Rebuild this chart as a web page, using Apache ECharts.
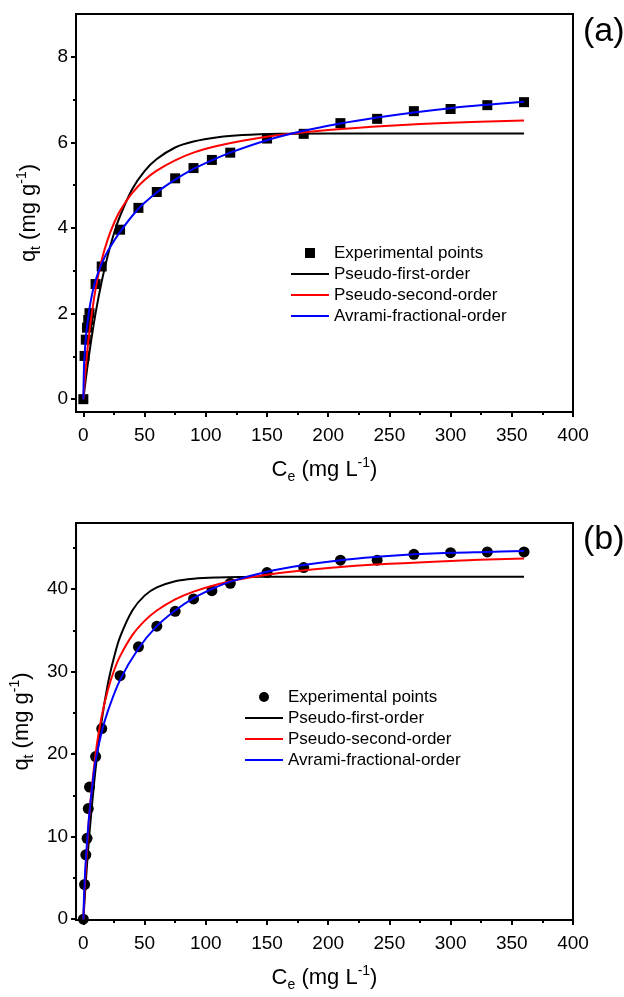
<!DOCTYPE html>
<html>
<head>
<meta charset="utf-8">
<script src="https://cdn.jsdelivr.net/npm/echarts@6/dist/echarts.min.js"></script>
<style>
  html, body { margin: 0; padding: 0; background: #fff; }
  #chart { width: 624px; height: 997px; }
</style>
</head>
<body>
<div id="chart"></div>
<script>
// 实验点的时间
const tExp = [0, 1, 2, 3, 4, 5, 10, 15, 30, 45, 60, 75, 90, 105, 120, 150, 180, 210, 240, 270, 300, 330, 360];
// (a) 实验点
const qExpA = [0, 1.01, 1.39, 1.67, 1.85, 2.01, 2.69, 3.10, 3.96, 4.47, 4.84, 5.16, 5.40, 5.59, 5.76, 6.09, 6.20, 6.45, 6.55, 6.73, 6.78, 6.87, 6.94];
// (b) 实验点
const qExpB = [0, 4.2, 7.8, 9.8, 13.4, 16.0, 19.7, 23.1, 29.5, 33.0, 35.5, 37.3, 38.8, 39.8, 40.7, 42.0, 42.6, 43.5, 43.5, 44.2, 44.4, 44.5, 44.5];

// 拟合曲线读取点
const tFit = [0, 2, 5, 10, 15, 20, 25, 30, 40, 50, 60, 75, 90, 110, 130, 160, 200, 250, 300, 360];
const pfoA = [0, 0.47, 1.10, 2.01, 2.75, 3.36, 3.87, 4.28, 4.91, 5.33, 5.61, 5.88, 6.02, 6.12, 6.17, 6.20, 6.21, 6.21, 6.21, 6.21];
const psoA = [0, 0.74, 1.59, 2.57, 3.25, 3.74, 4.11, 4.40, 4.82, 5.12, 5.34, 5.58, 5.76, 5.92, 6.04, 6.17, 6.29, 6.39, 6.46, 6.51];
const pfoB = [0, 4.54, 10.45, 18.25, 24.1, 28.5, 31.7, 34.2, 37.4, 39.2, 40.2, 40.95, 41.26, 41.41, 41.46, 41.48, 41.48, 41.48, 41.48, 41.48];
const psoB = [0, 6.21, 12.87, 20.04, 24.61, 27.77, 30.10, 31.87, 34.41, 36.14, 37.40, 38.74, 39.69, 40.59, 41.24, 41.94, 42.56, 43.06, 43.41, 43.70];

const tAvr = [0, 0.5, 1, 2, 3, 5, 7.5, 10, 15, 20, 30, 45, 60, 75, 90, 105, 120, 150, 180, 210, 240, 270, 300, 330, 360];
const avrA = [0, 0.75, 1.02, 1.42, 1.70, 2.12, 2.50, 2.78, 3.17, 3.46, 3.91, 4.45, 4.83, 5.13, 5.38, 5.58, 5.76, 6.05, 6.27, 6.44, 6.58, 6.70, 6.80, 6.88, 6.95];
const avrB = [0, 2.6, 4.5, 7.2, 9.4, 13.0, 16.4, 19.2, 22.7, 25.2, 29.0, 32.8, 35.5, 37.4, 38.9, 40.0, 40.9, 42.1, 42.9, 43.5, 43.9, 44.2, 44.4, 44.5, 44.6];

// 刻度
const xMajor = [0, 50, 100, 150, 200, 250, 300, 350, 400];
const xMinor = [25, 75, 125, 175, 225, 275, 325, 375];
const yMajorA = [0, 2, 4, 6, 8];
const yMinorA = [1, 3, 5, 7];
const yMajorB = [0, 10, 20, 30, 40];
const yMinorB = [5, 15, 25, 35, 45];

const names = ['Experimental points', 'Pseudo-first-order', 'Pseudo-second-order', 'Avrami-fractional-order'];

const FONT = "'Liberation Sans', Arial, sans-serif";
const LINE_ICON = 'path://M0,0H38V2H0Z';
const chart = echarts.init(document.getElementById('chart'));

function pairs(xs, ys) {
    return xs.map((x, i) => [x, ys[i]]);
}

const titleRich = {
    a: { fontSize: 22, lineHeight: 28, fontFamily: FONT, color: '#000' },
    s: { fontSize: 14, lineHeight: 14, verticalAlign: 'bottom', fontFamily: FONT, color: '#000' },
    p: { fontSize: 14, lineHeight: 14, verticalAlign: 'top', fontFamily: FONT, color: '#000' }
};

function majorX(grid) {
    return {
        type: 'value', gridIndex: grid, min: -6, max: 400,
        name: '{a|C}{s|e}{a| (mg L}{p|-1}{a|)}',
        nameLocation: 'middle', nameGap: 44,
        nameTextStyle: { rich: titleRich },
        axisLine: { show: true, onZero: false, lineStyle: { color: '#000', width: 2 } },
        axisTick: { show: true, inside: false, length: 5, customValues: xMajor, lineStyle: { color: '#000', width: 2 } },
        axisLabel: { customValues: xMajor, margin: 14, fontSize: 19, color: '#000', fontFamily: FONT },
        splitLine: { show: false }
    };
}
function minorX(grid) {
    return {
        type: 'value', gridIndex: grid, min: -6, max: 400, position: 'bottom',
        axisLine: { show: false, onZero: false },
        axisTick: { show: true, length: 3, customValues: xMinor, lineStyle: { color: '#000', width: 2 } },
        axisLabel: { show: false },
        splitLine: { show: false }
    };
}
function majorY(grid, min, max, vals) {
    return {
        type: 'value', gridIndex: grid, min: min, max: max,
        name: '{a|q}{s|t}{a| (mg g}{p|-1}{a|)}',
        nameLocation: 'middle', nameGap: 33,
        nameTextStyle: { rich: titleRich },
        axisLine: { show: true, onZero: false, lineStyle: { color: '#000', width: 2 } },
        axisTick: { show: true, length: 5, customValues: vals, lineStyle: { color: '#000', width: 2 } },
        axisLabel: { customValues: vals, margin: 8, fontSize: 19, color: '#000', fontFamily: FONT },
        splitLine: { show: false }
    };
}
function minorY(grid, min, max, vals) {
    return {
        type: 'value', gridIndex: grid, min: min, max: max, position: 'left',
        axisLine: { show: false, onZero: false },
        axisTick: { show: true, length: 3, customValues: vals, lineStyle: { color: '#000', width: 2 } },
        axisLabel: { show: false },
        splitLine: { show: false }
    };
}

function lineSeries(name, xs, ys, color, ax) {
    return {
        name: name, type: 'line', xAxisIndex: ax, yAxisIndex: ax,
        data: pairs(xs, ys), symbol: 'none', smooth: 0.35,
        lineStyle: { color: color, width: 2 }, itemStyle: { color: color },
        z: 3
    };
}

function legendFor(top, left, icon) {
    return {
        orient: 'vertical', left: left, top: top,
        itemWidth: 38, itemHeight: 10, itemGap: 3,
        textStyle: { fontSize: 17, lineHeight: 18, color: '#000', fontFamily: FONT },
        data: [
            { name: names[0], icon: icon },
            { name: names[1], icon: LINE_ICON },
            { name: names[2], icon: LINE_ICON },
            { name: names[3], icon: LINE_ICON }
        ]
    };
}

const option = {
    animation: false,
    backgroundColor: '#fff',
    title: [
        { text: '(a)', left: 578, top: 10, textStyle: { fontSize: 34, fontWeight: 'normal', color: '#000', fontFamily: FONT } },
        { text: '(b)', left: 578, top: 518, textStyle: { fontSize: 34, fontWeight: 'normal', color: '#000', fontFamily: FONT } }
    ],
    legend: [
        legendFor(239, 286, 'path://M0,0L1,0L1,1L0,1Z'),
        legendFor(683, 240, 'circle')
    ],
    grid: [
        { left: 76, top: 14, width: 497, height: 398, show: true, borderColor: '#000', borderWidth: 2, backgroundColor: 'transparent' },
        { left: 76, top: 523, width: 497, height: 397, show: true, borderColor: '#000', borderWidth: 2, backgroundColor: 'transparent' }
    ],
    xAxis: [majorX(0), minorX(0), majorX(1), minorX(1)],
    yAxis: [
        majorY(0, -0.3, 9, yMajorA), minorY(0, -0.3, 9, yMinorA),
        majorY(1, -0.1, 48, yMajorB), minorY(1, -0.1, 48, yMinorB)
    ],
    series: [
        { name: names[0], type: 'scatter', xAxisIndex: 0, yAxisIndex: 0, data: pairs(tExp, qExpA),
          symbol: 'rect', symbolSize: 10, itemStyle: { color: '#000', opacity: 1 }, z: 2 },
        lineSeries(names[1], tFit, pfoA, '#000000', 0),
        lineSeries(names[2], tFit, psoA, '#ff0000', 0),
        lineSeries(names[3], tAvr, avrA, '#0000ff', 0),
        { name: names[0], type: 'scatter', xAxisIndex: 2, yAxisIndex: 2, data: pairs(tExp, qExpB),
          symbol: 'circle', symbolSize: 11, itemStyle: { color: '#000', opacity: 1 }, z: 2 },
        lineSeries(names[1], tFit, pfoB, '#000000', 2),
        lineSeries(names[2], tFit, psoB, '#ff0000', 2),
        lineSeries(names[3], tAvr, avrB, '#0000ff', 2)
    ]
};

chart.setOption(option);
</script>
</body>
</html>
